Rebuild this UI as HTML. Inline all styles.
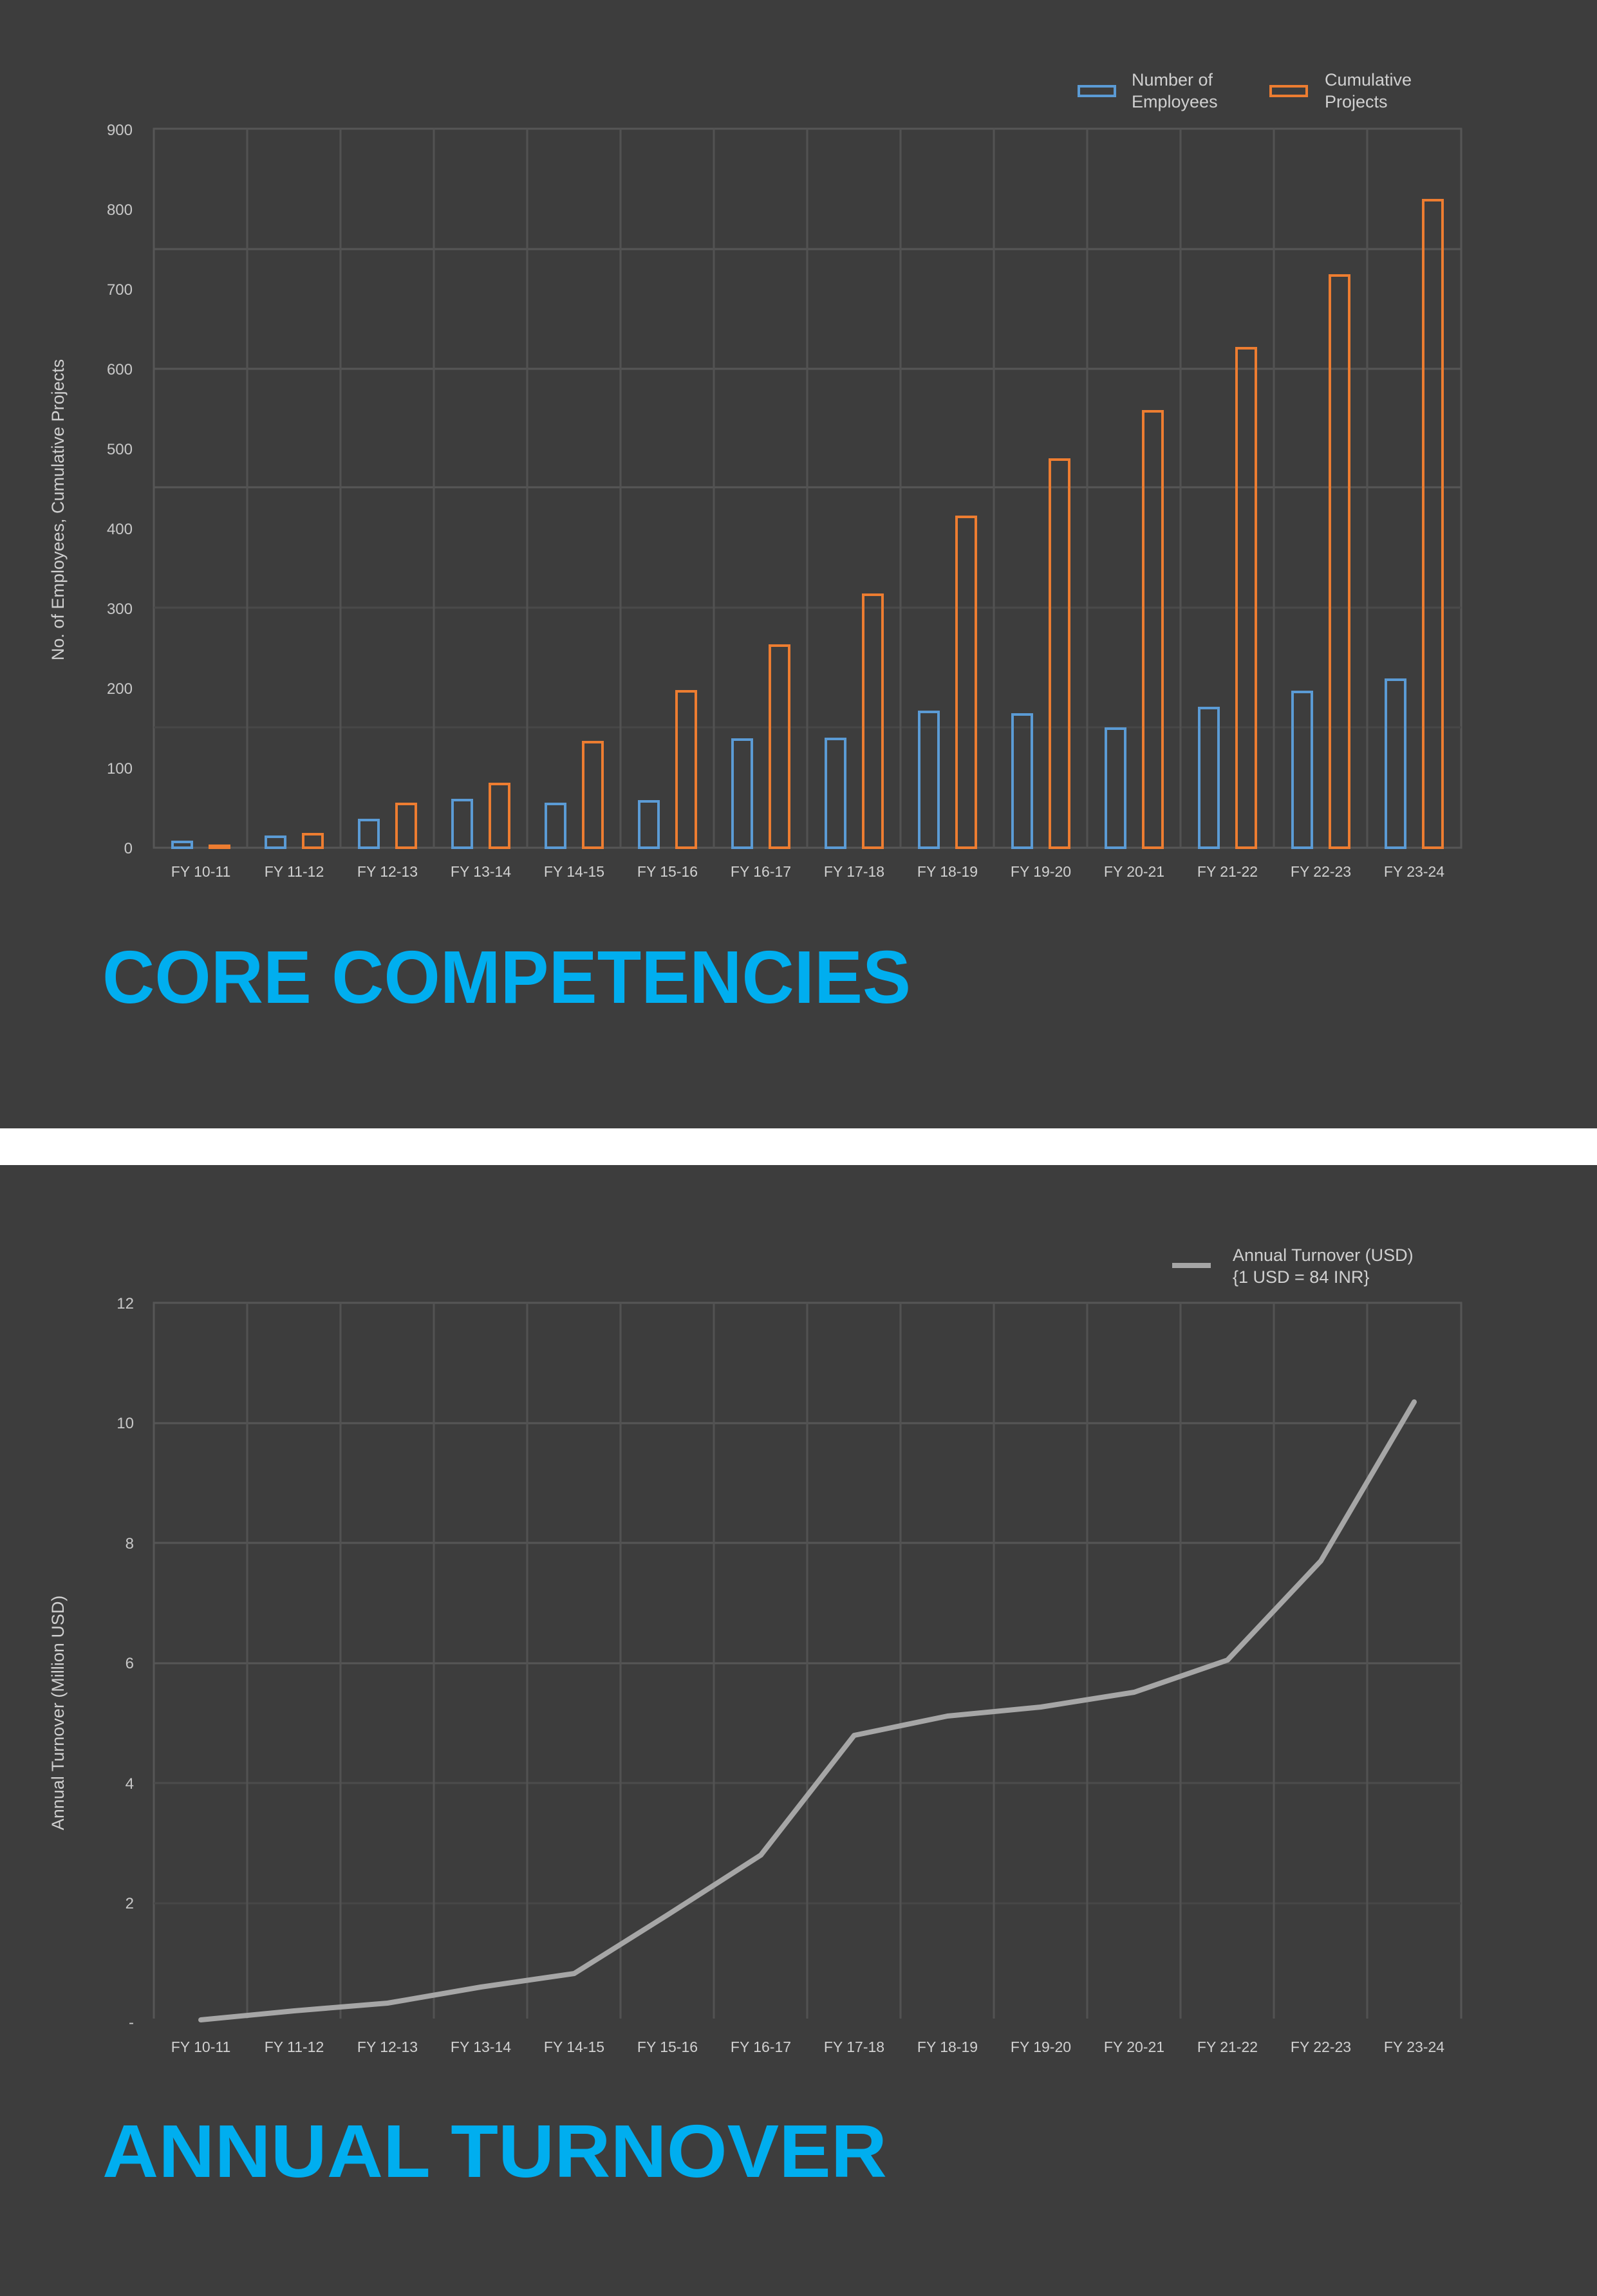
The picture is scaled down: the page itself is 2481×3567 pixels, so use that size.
<!DOCTYPE html>
<html><head><meta charset="utf-8"><style>
html,body{margin:0;padding:0;background:#3d3d3d;}
svg{display:block;}
</style></head><body>
<svg width="2481" height="3567" viewBox="0 0 2481 3567" xmlns="http://www.w3.org/2000/svg" font-family="Liberation Sans, sans-serif">
<rect x="0" y="0" width="2481" height="3567" fill="#3d3d3d"/>
<rect x="0" y="1753" width="2481" height="57" fill="#ffffff"/>

<!-- CHART 1 -->
<g stroke="#565656" stroke-width="3" fill="none">
<rect x="239" y="200" width="2031" height="1117"/>
<line x1="239" y1="387" x2="2270" y2="387"/>
<line x1="239" y1="573" x2="2270" y2="573"/>
<line x1="239" y1="757" x2="2270" y2="757"/>
<line x1="239" y1="944" x2="2270" y2="944" stroke="#4a4a4a"/>
<line x1="239" y1="1130" x2="2270" y2="1130" stroke="#474747"/>
</g>
<g stroke="#525252" stroke-width="3">
<line x1="384" y1="200" x2="384" y2="1317"/><line x1="529" y1="200" x2="529" y2="1317"/>
<line x1="674" y1="200" x2="674" y2="1317"/><line x1="819" y1="200" x2="819" y2="1317"/>
<line x1="964" y1="200" x2="964" y2="1317"/><line x1="1109" y1="200" x2="1109" y2="1317"/>
<line x1="1254" y1="200" x2="1254" y2="1317"/><line x1="1399" y1="200" x2="1399" y2="1317"/>
<line x1="1544" y1="200" x2="1544" y2="1317"/><line x1="1689" y1="200" x2="1689" y2="1317"/>
<line x1="1834" y1="200" x2="1834" y2="1317"/><line x1="1979" y1="200" x2="1979" y2="1317"/>
<line x1="2124" y1="200" x2="2124" y2="1317"/>
</g>
<g fill="#c8c8c8" font-size="24" text-anchor="end">
<text x="206" y="1326">0</text><text x="206" y="1202">100</text><text x="206" y="1078">200</text>
<text x="206" y="954">300</text><text x="206" y="830">400</text><text x="206" y="706">500</text>
<text x="206" y="582">600</text><text x="206" y="458">700</text><text x="206" y="334">800</text>
<text x="206" y="210">900</text>
</g>
<text transform="translate(99,792) rotate(-90)" fill="#cfcfcf" font-size="27" text-anchor="middle">No. of Employees, Cumulative Projects</text>
<g fill="none" stroke-width="4">
<g stroke="#5b9bd5">
<rect x="268" y="1308" width="30" height="9"/><rect x="413" y="1300" width="30" height="17"/>
<rect x="558" y="1274" width="30" height="43"/><rect x="703" y="1243" width="30" height="74"/>
<rect x="848" y="1249" width="30" height="68"/><rect x="993" y="1245" width="30" height="72"/>
<rect x="1138" y="1149" width="30" height="168"/><rect x="1283" y="1148" width="30" height="169"/>
<rect x="1428" y="1106" width="30" height="211"/><rect x="1573" y="1110" width="30" height="207"/>
<rect x="1718" y="1132" width="30" height="185"/><rect x="1863" y="1100" width="30" height="217"/>
<rect x="2008" y="1075" width="30" height="242"/><rect x="2153" y="1056" width="30" height="261"/>
</g>
<g stroke="#ed7d31">
<rect x="326" y="1314" width="30" height="3"/><rect x="471" y="1296" width="30" height="21"/>
<rect x="616" y="1249" width="30" height="68"/><rect x="761" y="1218" width="30" height="99"/>
<rect x="906" y="1153" width="30" height="164"/><rect x="1051" y="1074" width="30" height="243"/>
<rect x="1196" y="1003" width="30" height="314"/><rect x="1341" y="924" width="30" height="393"/>
<rect x="1486" y="803" width="30" height="514"/><rect x="1631" y="714" width="30" height="603"/>
<rect x="1776" y="639" width="30" height="678"/><rect x="1921" y="541" width="30" height="776"/>
<rect x="2066" y="428" width="30" height="889"/><rect x="2211" y="311" width="30" height="1006"/>
</g>
</g>
<g fill="#d0d0d0" font-size="23" text-anchor="middle">
<text x="312" y="1362">FY 10-11</text><text x="457" y="1362">FY 11-12</text><text x="602" y="1362">FY 12-13</text>
<text x="747" y="1362">FY 13-14</text><text x="892" y="1362">FY 14-15</text><text x="1037" y="1362">FY 15-16</text>
<text x="1182" y="1362">FY 16-17</text><text x="1327" y="1362">FY 17-18</text><text x="1472" y="1362">FY 18-19</text>
<text x="1617" y="1362">FY 19-20</text><text x="1762" y="1362">FY 20-21</text><text x="1907" y="1362">FY 21-22</text>
<text x="2052" y="1362">FY 22-23</text><text x="2197" y="1362">FY 23-24</text>
</g>
<rect x="1676" y="134" width="56" height="15" fill="none" stroke="#5b9bd5" stroke-width="4"/>
<rect x="1974" y="134" width="56" height="15" fill="none" stroke="#ed7d31" stroke-width="4"/>
<g fill="#d0d0d0" font-size="27">
<text x="1758" y="133">Number of</text><text x="1758" y="167">Employees</text>
<text x="2058" y="133">Cumulative</text><text x="2058" y="167">Projects</text>
</g>
<text x="159" y="1558" fill="#00aeef" font-size="116" font-weight="bold" textLength="1256" lengthAdjust="spacingAndGlyphs">CORE COMPETENCIES</text>

<!-- CHART 2 -->
<g stroke="#565656" stroke-width="3" fill="none">
<rect x="239" y="2024" width="2031" height="1119"/>
<line x1="239" y1="2211" x2="2270" y2="2211"/>
<line x1="239" y1="2397" x2="2270" y2="2397"/>
<line x1="239" y1="2584" x2="2270" y2="2584"/>
<line x1="239" y1="2770" x2="2270" y2="2770" stroke="#4c4c4c"/>
<line x1="239" y1="2957" x2="2270" y2="2957" stroke="#474747"/>
</g>
<g stroke="#525252" stroke-width="3">
<line x1="384" y1="2024" x2="384" y2="3143"/><line x1="529" y1="2024" x2="529" y2="3143"/>
<line x1="674" y1="2024" x2="674" y2="3143"/><line x1="819" y1="2024" x2="819" y2="3143"/>
<line x1="964" y1="2024" x2="964" y2="3143"/><line x1="1109" y1="2024" x2="1109" y2="3143"/>
<line x1="1254" y1="2024" x2="1254" y2="3143"/><line x1="1399" y1="2024" x2="1399" y2="3143"/>
<line x1="1544" y1="2024" x2="1544" y2="3143"/><line x1="1689" y1="2024" x2="1689" y2="3143"/>
<line x1="1834" y1="2024" x2="1834" y2="3143"/><line x1="1979" y1="2024" x2="1979" y2="3143"/>
<line x1="2124" y1="2024" x2="2124" y2="3143"/>
</g>
<rect x="237" y="3136" width="2036" height="14" fill="#3d3d3d"/>
<g fill="#c8c8c8" font-size="24" text-anchor="end">
<text x="208" y="3150">-</text><text x="208" y="2965">2</text><text x="208" y="2779">4</text>
<text x="208" y="2592">6</text><text x="208" y="2406">8</text><text x="208" y="2219">10</text>
<text x="208" y="2033">12</text>
</g>
<text transform="translate(99,2661) rotate(-90)" fill="#cfcfcf" font-size="27" text-anchor="middle">Annual Turnover (Million USD)</text>
<polyline fill="none" stroke="#a6a6a6" stroke-width="8" stroke-linejoin="round" stroke-linecap="round"
points="312,3138 457,3124 602,3112 747,3087 892,3066 1037,2975 1182,2882 1327,2696 1472,2666 1617,2652 1762,2629 1907,2579 2052,2425 2197,2178"/>
<g fill="#d0d0d0" font-size="23" text-anchor="middle">
<text x="312" y="3188">FY 10-11</text><text x="457" y="3188">FY 11-12</text><text x="602" y="3188">FY 12-13</text>
<text x="747" y="3188">FY 13-14</text><text x="892" y="3188">FY 14-15</text><text x="1037" y="3188">FY 15-16</text>
<text x="1182" y="3188">FY 16-17</text><text x="1327" y="3188">FY 17-18</text><text x="1472" y="3188">FY 18-19</text>
<text x="1617" y="3188">FY 19-20</text><text x="1762" y="3188">FY 20-21</text><text x="1907" y="3188">FY 21-22</text>
<text x="2052" y="3188">FY 22-23</text><text x="2197" y="3188">FY 23-24</text>
</g>
<line x1="1821" y1="1966" x2="1881" y2="1966" stroke="#a6a6a6" stroke-width="8"/>
<g fill="#d0d0d0" font-size="27">
<text x="1915" y="1959">Annual Turnover (USD)</text><text x="1915" y="1993">{1 USD = 84 INR}</text>
</g>
<text x="159" y="3382" fill="#00aeef" font-size="116" font-weight="bold" textLength="1219" lengthAdjust="spacingAndGlyphs">ANNUAL TURNOVER</text>
</svg>
</body></html>
